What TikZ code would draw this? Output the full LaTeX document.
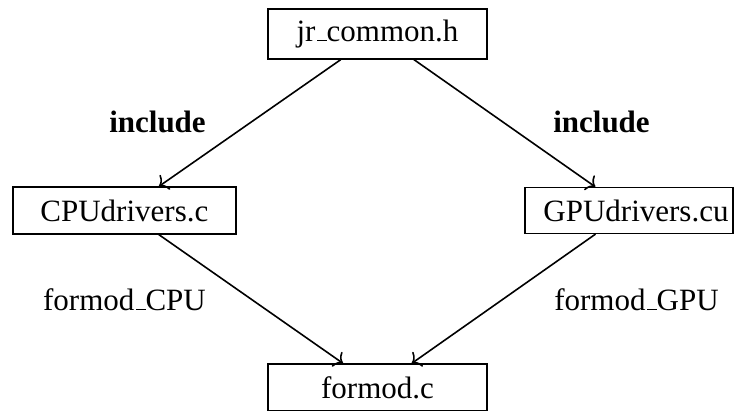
\documentclass[tikz,border=0pt]{standalone}
\usepackage{fontspec}
\setmainfont{Liberation Serif}
\usetikzlibrary{arrows.meta}
\newcommand{\usc}{\leavevmode\kern.06em\vbox{\hrule width.3em height 1.3pt}}
\begin{document}
\begin{tikzpicture}[x=1pt,y=1pt,
  box/.style={draw,line width=1.2pt,inner sep=0pt,font=\fontsize{31}{36}\selectfont},
  lbl/.style={anchor=base,inner sep=0pt,font=\fontsize{31}{36}\selectfont},
  arr/.style={line width=1.6pt,-{To[length=8pt,width=18pt]}}]
\useasboundingbox (0,0) rectangle (736,410);
\node[box,minimum width=219pt,minimum height=50pt] (top) at (377.5,376) {jr\usc common.h};
\node[box,minimum width=223pt,minimum height=47pt] (cpu) at (124.4,199.5) {CPUdrivers.c};
\node[box,minimum width=208pt,minimum height=46pt] (gpu) at (629,199.5) {\hspace*{14pt}GPUdrivers.cu};
\node[box,minimum width=219pt,minimum height=47pt] (fm) at (377.5,22.5) {formod.c};
\node[lbl,font=\fontsize{31}{36}\selectfont\bfseries] (inc1) at (157.5,277) {include};
\node[lbl,font=\fontsize{31}{36}\selectfont\bfseries] (inc2) at (601.5,277) {include};
\node[lbl] (fc) at (124.5,100) {formod\usc CPU};
\node[lbl] (fg) at (636.5,100) {formod\usc GPU};
\draw[arr] (top) -- (cpu);
\draw[arr] (top) -- (gpu);
\draw[arr] (cpu) -- (fm);
\draw[arr] (gpu) -- (fm);
\end{tikzpicture}
\end{document}
